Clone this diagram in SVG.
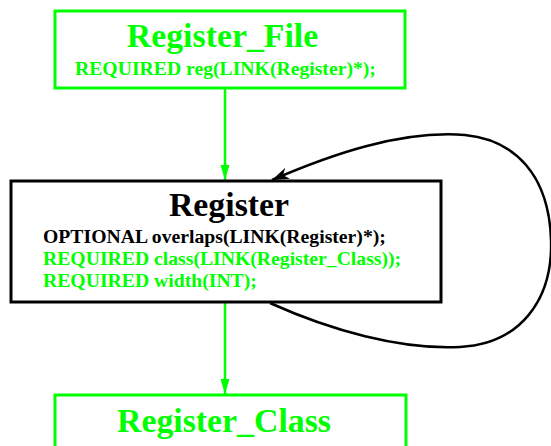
<svg xmlns="http://www.w3.org/2000/svg" width="551" height="446" viewBox="0 0 551 446">
<style>
.box{fill:#ffffff;stroke-width:3}
.g{stroke:#00ff00}
.k{stroke:#000000}
.t{font-family:"Liberation Serif","Times New Roman",serif;font-weight:bold}
.title{font-size:33.8px}
.body{font-size:19.7px}
.gt{fill:#00ff00}
.kt{fill:#000000}
</style>
<defs>
<marker id="ga" markerWidth="16" markerHeight="10" refX="15" refY="4.5" orient="auto" markerUnits="userSpaceOnUse">
<path d="M0,0 L15,4.5 L0,9 z" fill="#00ff00"/>
</marker>
<marker id="ka" markerWidth="18" markerHeight="12" refX="17" refY="6" orient="auto" markerUnits="userSpaceOnUse">
<path d="M0,0 L17,6 L0,12 L5,6 z" fill="#000000"/>
</marker>
</defs>
<rect width="551" height="446" fill="#ffffff"/>
<g id="connectors">
<line x1="225" y1="89" x2="225" y2="180" stroke="#00ff00" stroke-width="2.5" marker-end="url(#ga)"/>
<line x1="225" y1="303" x2="225" y2="394" stroke="#00ff00" stroke-width="2.5" marker-end="url(#ga)"/>
<path d="M270,303 C330,330 400,350 460,347 C520,344 553,300 551,240 C549,175 515,140 465,135 C400,130 330,155 272,180" fill="none" stroke="#000000" stroke-width="2.5" marker-end="url(#ka)"/>
</g>
<g id="Register_File">
<rect class="box g" x="55" y="11" width="350" height="77"/>
<text class="t title gt" x="222.5" y="47" text-anchor="middle">Register_File</text>
<text class="t body gt" x="75" y="75">REQUIRED reg(LINK(Register)*);</text>
</g>
<g id="Register">
<rect class="box k" x="11" y="181" width="430" height="121"/>
<text class="t title kt" x="229" y="216" text-anchor="middle">Register</text>
<text class="t body kt" x="43" y="243">OPTIONAL overlaps(LINK(Register)*);</text>
<text class="t body gt" x="43" y="265">REQUIRED class(LINK(Register_Class));</text>
<text class="t body gt" x="43" y="287">REQUIRED width(INT);</text>
</g>
<g id="Register_Class">
<rect class="box g" x="55" y="395" width="351" height="80"/>
<text class="t title gt" x="224" y="432" text-anchor="middle">Register_Class</text>
</g>
</svg>
